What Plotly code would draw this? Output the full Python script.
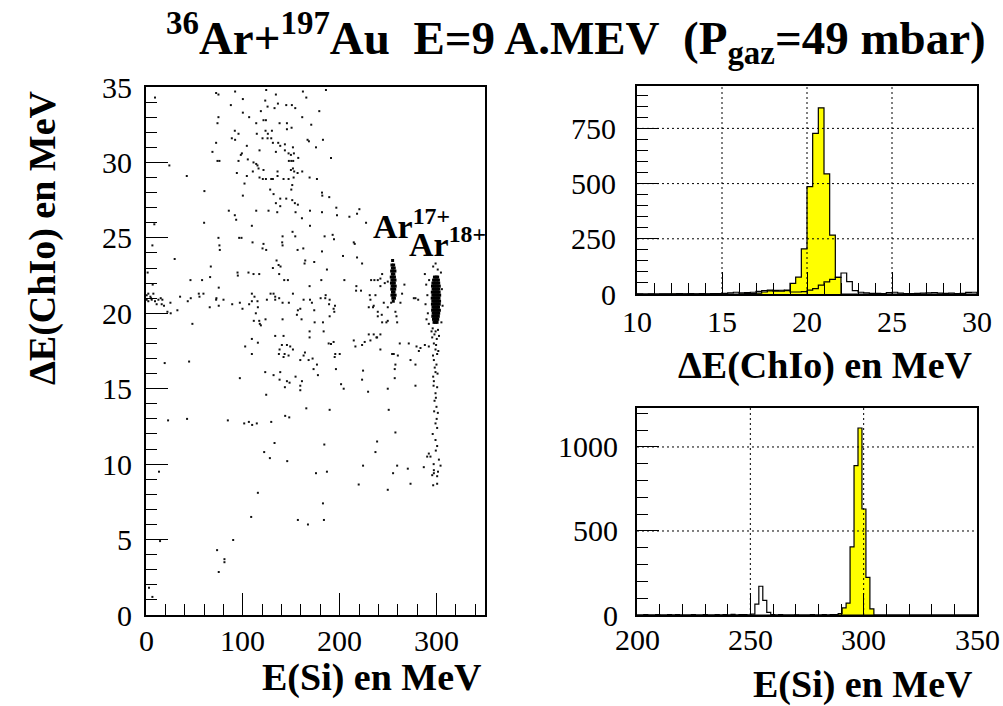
import plotly.graph_objects as go
import numpy as np

# ---------------- scatter data: E(Si) vs dE(ChIo) ----------------
sparse_pts = [
    (9.3,34.3),(72.4,34.6),(74.8,34.5),(92.0,34.7),(100.0,34.2),(124.1,34.8),(123.1,34.1),(134.1,34.5),(162.0,34.7),(165.5,34.3),(185.8,34.8),
    (87.6,33.8),(125.5,33.7),(136.2,33.9),(132.7,33.6),(144.8,33.8),(150.6,33.8),(154.1,33.6),(178.9,33.4),(100.0,33.3),(118.6,33.4),
    (74.8,33.0),(106.5,33.0),(121.3,32.8),(123.8,32.8),(73.8,32.6),(113.8,32.6),(137.9,32.6),(145.5,32.6),(161.3,33.0),(170.6,32.5),
    (91.7,32.1),(95.5,31.9),(114.4,31.9),(123.4,32.1),(130.0,32.1),(125.8,31.9),(150.3,32.3),(145.5,32.2),
    (88.6,31.6),(92.0,31.5),(120.3,31.6),(125.5,31.6),(129.3,31.6),(131.0,31.3),(136.5,31.3),(138.6,31.1),(143.4,31.2),(151.7,31.0),
    (166.8,31.5),(168.2,31.4),(182.7,31.5),(72.4,31.3),(104.1,31.1),(68.6,30.7),(99.0,30.6),(97.9,30.5),(117.2,30.8),(134.1,30.7),
    (143.4,30.8),(147.2,30.6),(149.6,30.5),(152.7,30.6),(157.2,30.3),(175.5,31.0),(191.0,30.3),(73.8,30.1),(75.8,30.1),(95.5,30.1),
    (105.1,30.2),(111.0,30.0),(113.8,29.9),(115.1,29.8),(147.5,30.1),(150.0,30.1),(152.0,30.1),(24.1,29.8),(110.3,29.4),(116.2,29.6),
    (121.3,29.5),(151.7,29.6),(149.6,29.5),(153.0,29.4),(156.5,29.3),(161.3,29.4),(135.8,29.4),(93.8,29.3),(104.1,29.1),(117.2,29.0),
    (120.6,28.9),(123.8,28.9),(129.3,28.9),(131.0,28.9),(135.8,29.1),(142.0,28.9),(147.2,28.9),(152.4,29.0),(168.9,29.0),(176.5,28.9),
    (42.1,29.1),(101.7,28.6),(128.2,28.2),(131.7,27.9),(150.0,28.2),(151.0,28.5),(181.7,28.0),(182.0,27.8),(60.3,28.1),(100.0,27.8),
    (189.2,27.7),(138.6,27.6),(144.8,27.6),(151.0,27.5),(153.7,27.3),(156.8,27.2),(134.1,27.3),(138.6,27.1),(85.5,26.8),(91.7,26.5),
    (93.1,26.2),(113.8,26.8),(126.5,26.8),(135.5,26.7),(154.4,26.7),(169.3,26.8),(181.7,26.7),(196.5,27.0),(197.2,26.5),(161.0,26.3),
    (60.0,26.0),(109.3,25.8),(169.3,25.8),(8.6,25.9),(151.3,25.4),(154.1,25.1),(184.4,25.1),(192.7,25.2),(194.1,24.9),(141.0,25.1),
    (96.2,25.0),(98.6,25.0),(74.8,25.0),(75.8,24.5),(76.2,24.2),(6.6,24.5),(110.0,24.7),(121.3,24.6),(140.6,24.7),(141.0,24.5),
    (124.1,24.2),(156.5,24.2),(162.4,24.3),(181.7,24.1),(120.3,24.3),(29.6,23.6),(134.8,23.5),(136.9,23.2),(138.9,23.1),(164.4,23.5),
    (173.7,23.4),(131.0,23.0),(163.7,23.3),(186.8,22.9),(66.9,23.1),(94.5,22.7),(94.8,22.5),(105.8,22.7),(111.0,22.6),(116.9,22.6),
    (137.5,22.6),(45.9,22.2),(57.9,22.2),(66.2,22.4),(142.7,22.2),(146.5,22.2),(181.0,22.2),(168.9,21.8),(75.1,21.7),(1.7,22.7),
    (2.4,21.3),(6.9,21.9),(5.2,21.0),(0.7,20.9),(2.4,20.8),(5.9,20.9),(9.3,20.8),(12.8,20.9),(15.2,21.0),(16.9,20.9),(11.0,20.6),
    (16.2,20.6),(18.6,20.5),(22.1,20.1),(25.2,20.7),(32.4,20.2),(25.5,20.0),(35.2,21.1),(43.1,20.8),(46.2,21.0),(54.5,21.3),(55.2,21.1),
    (59.3,21.3),(65.8,20.4),(72.7,21.0),(72.4,20.9),(75.1,20.5),(80.0,20.9),(89.0,20.6),(96.9,20.7),(99.6,20.3),(109.3,21.3),(109.3,20.8),
    (106.5,20.6),(115.1,20.8),(115.5,20.4),(112.0,21.1),(124.8,20.9),(128.6,21.3),(131.7,21.3),(133.4,20.9),(137.5,21.0),(133.4,21.1),
    (141.0,20.7),(147.5,20.7),(151.7,21.3),(162.7,20.9),(169.3,20.9),(171.3,20.7),(180.3,21.0),(185.1,21.0),(189.0,20.6),(193.7,20.3),
    (194.4,20.1),(113.4,20.0),(123.4,19.6),(141.0,19.6),(156.8,20.2),(159.3,20.3),(155.8,19.9),(160.6,19.6),(173.7,20.2),(189.6,19.8),
    (111.3,19.5),(116.9,19.5),(117.5,19.3),(118.6,19.2),(47.9,19.3),(182.7,19.4),(174.1,19.4),(195.1,20.5),(185.5,21.2),(189.6,20.9),
    (0.7,21.2),(4.5,21.1),(7.6,21.3),(133.4,18.5),(142.0,18.5),(109.3,18.3),(168.9,18.8),(183.4,18.8),(168.9,18.4),
    (102.4,17.8),(115.5,18.05),(109.3,17.3),(140.3,17.9),(145.5,17.9),(148.9,17.8),(151.7,17.6),(137.9,17.6),(137.2,17.3),(143.1,17.3),
    (147.2,17.2),(142.0,17.1),(164.1,17.4),(162.7,17.2),(159.3,16.9),(167.9,16.9),(172.0,17.0),(176.5,16.6),(173.0,16.3),(177.5,15.9),
    (188.6,18.0),(191.0,17.96),(193.7,18.1),(195.4,17.3),(200.0,17.3),(194.8,17.1),(196.1,16.3),(19.3,16.7),(44.5,16.8),(123.1,16.1),
    (131.7,15.9),(138.6,16.1),(137.9,15.6),(145.5,15.5),(148.2,15.4),(154.4,15.8),(161.0,15.5),(159.3,15.2),(159.3,14.9),(143.4,15.1),
    (96.9,15.7),(124.1,14.6),(165.5,13.7),(189.6,13.6),(143.7,13.2),(147.9,13.1),(22.8,12.9),(42.4,13.0),(84.5,12.9),(101.4,12.7),
    (106.2,12.8),(109.6,12.6),(114.4,12.7),(129.3,12.8),(132.7,11.4),(184.1,11.3),(122.0,10.8),(127.9,10.4),(145.8,10.2),(13.4,9.5),
    (175.5,9.4),(186.8,9.5),(115.5,8.1),(182.7,7.4),(108.6,6.5),(156.8,6.3),(167.2,6.0),(183.7,6.3),(90.0,4.97),(14.5,4.9),
    (73.4,4.3),(81.0,3.7),(81.0,3.5),(75.1,2.85),(3.1,1.8),(6.6,1.2),
    (227.2,26.0),(210.0,26.4),(217.9,26.6),(220.3,26.9),(214.5,24.7),(215.5,24.6),(217.9,23.7),(223.1,23.3),(203.4,23.8),(204.8,22.2),
    (217.2,21.8),(222.0,21.5),(216.9,21.5),(232.4,22.2),(235.8,22.2),(239.3,22.2),(242.0,22.3),(243.8,22.6),(249.6,22.1),(246.5,22.0),
    (242.0,21.8),(231.0,21.2),(236.9,21.2),(231.7,20.9),(235.1,20.5),(239.3,20.1),(243.4,19.9),(245.5,20.7),(249.6,20.4),(253.1,20.7),
    (230.0,20.4),(234.4,20.4),(257.5,20.1),(258.6,19.8),(259.3,19.4),(262.7,20.7),(264.4,21.3),(266.8,21.9),(249.6,19.5),(248.2,19.4),
    (243.8,19.4),(239.3,19.8),(242.0,18.6),(238.6,18.4),(235.1,18.6),(231.7,18.2),(230.0,18.6),(225.8,18.1),(223.1,17.9),(216.2,17.8),
    (214.5,18.2),(254.1,17.3),(255.8,17.3),(260.0,17.2),(242.0,17.6),(237.9,18.4),(271.3,18.0),(262.0,18.0),(278.2,21.0),(281.0,20.9),
    (276.5,21.0),(279.3,17.8),(281.7,17.5),(283.4,17.7),(287.9,17.9),(292.0,17.8),(273.1,16.9),(278.2,16.6),(257.5,16.6),(256.8,16.3),
    (224.1,16.2),(223.1,15.6),(229.3,14.8),(201.4,15.3),(204.1,15.0),(249.6,15.0),(256.8,15.7),(278.2,15.2),(250.6,13.6),(257.5,12.1),
    (238.6,11.5),(236.9,10.8),(224.1,9.9),(219.6,8.65),(249.6,8.3),(259.3,9.9),(270.3,9.7),(273.1,8.7),(255.1,9.4),
    (295.5,18.4),(297.2,18.0),(298.9,17.6),(300.6,17.3),(297.2,16.9),(299.9,16.6),(298.9,16.1),(296.5,15.8),(297.2,15.5),(300.6,15.1),
    (298.9,14.7),(297.9,14.2),(299.9,13.8),(301.3,13.4),(298.9,12.7),(300.6,12.4),(298.9,11.6),(300.6,11.2),(292.0,10.7),(293.7,10.5),
    (302.4,10.3),(304.1,9.9),(297.2,9.6),(295.5,9.27),(300.6,8.7),(286.8,9.8),(290.3,10.5),(296.5,8.6),(297.2,9.4),(300.6,9.2),
    (296.0,19.0),(299.0,18.8),(301.5,18.9),(297.8,18.6),(300.2,18.3),(302.5,18.5),(294.8,18.8),(299.5,17.9),(301.8,17.5),(296.3,17.2),
    (298.1,16.4),(301.0,16.0),(296.9,15.2),(299.3,14.4),(297.5,13.5),(300.1,13.0),(296.0,12.0),(299.2,10.9),(297.0,10.0),(301.5,9.5),
    (287.9,22.6),(289.3,21.9),(290.5,21.2),(288.6,20.6),(291.0,20.0),(289.6,19.6),(292.3,22.2),(292.0,19.3),(304.5,22.7),(305.5,21.6),
    (306.2,20.5),(305.0,19.4),(296.5,23.1),(299.0,23.3),(301.2,22.9),
]

ar18_pts = [
    (297.8,22.4),(299.6,22.4),(301.1,22.4),
    (296.9,22.2),(298.4,22.2),(300.3,22.2),(301.9,22.2),
    (296.2,22.0),(297.7,22.0),(299.1,22.0),(300.6,22.0),(302.2,22.0),
    (295.8,21.8),(297.2,21.8),(298.5,21.8),(299.9,21.8),(301.4,21.8),(302.8,21.8),
    (296.4,21.6),(297.9,21.6),(299.4,21.6),(300.8,21.6),(302.3,21.6),
    (295.6,21.4),(297.0,21.4),(298.4,21.4),(299.8,21.4),(301.2,21.4),(302.6,21.4),
    (296.2,21.2),(297.6,21.2),(299.0,21.2),(300.5,21.2),(301.9,21.2),(303.2,21.2),
    (295.5,21.0),(296.9,21.0),(298.3,21.0),(299.7,21.0),(301.1,21.0),(302.5,21.0),
    (296.1,20.8),(297.5,20.8),(298.9,20.8),(300.3,20.8),(301.8,20.8),(303.1,20.8),
    (295.7,20.6),(297.1,20.6),(298.6,20.6),(300.0,20.6),(301.4,20.6),(302.8,20.6),
    (296.3,20.4),(297.7,20.4),(299.2,20.4),(300.6,20.4),(302.0,20.4),
    (295.9,20.2),(297.3,20.2),(298.8,20.2),(300.2,20.2),(301.6,20.2),(302.9,20.2),
    (296.5,20.0),(297.9,20.0),(299.4,20.0),(300.8,20.0),(302.2,20.0),
    (296.1,19.8),(297.6,19.8),(299.0,19.8),(300.4,19.8),(301.8,19.8),
    (296.8,19.6),(298.3,19.6),(299.7,19.6),(301.2,19.6),
    (297.4,19.4),(298.9,19.4),(300.5,19.4),
]

ar17_pts = [
    (254.6,23.5),(253.9,23.2),(255.7,23.2),(254.4,23.0),(256.3,23.0),(253.6,22.8),(255.1,22.8),(257.0,22.8),
    (254.3,22.6),(255.9,22.6),(253.2,22.4),(254.8,22.4),(256.5,22.4),(253.9,22.2),(255.4,22.2),(257.1,22.2),
    (253.4,22.0),(254.9,22.0),(256.4,22.0),(254.1,21.8),(255.7,21.8),(257.3,21.8),(253.7,21.6),(255.2,21.6),
    (256.8,21.6),(254.5,21.4),(256.1,21.4),(253.9,21.2),(255.5,21.2),(257.2,21.2),(254.8,21.0),(256.5,21.0),(255.3,20.8),
]

# ---------------- histogram data ----------------
# dE(ChIo): 60 bins of 1/3 MeV from 10 to 30
de_edges = np.linspace(10, 30, 61)
de_yellow = [0,0,0,0,0,0,1,0,0,0, 0,0,0,0,0,0,0,0,1,2,
             2,4,9,18,13,13,18,48,76,204, 486,727,843,544,267,75,0,0,0,0,
             0,0,0,0,0,0,0,0,0,0, 0,0,0,0,0,0,0,0,0,0]
de_black = [1,0,1,0,1,1,0,2,1,2, 1,2,1,2,2,3,5,8,5,6,
            8,12,15,14,16,17,15,9,9,11, 18,24,40,55,66,75,95,56,15,8,
            5,3,3,2,6,8,4,2,2,3, 4,5,6,4,3,4,2,3,7,8]

# E(Si): bins of 1.75 MeV, 86 bins from 199.5 to 350
e_edges = 199.5 + 1.75 * np.arange(87)
e_yellow = [0]*86
for i, v in {49: 2, 50: 3, 51: 8, 52: 42, 53: 71, 54: 405, 55: 889, 56: 1113, 57: 631, 58: 224, 59: 36}.items():
    e_yellow[i] = v
e_black = [0]*86
for i, v in {2: 2, 5: 2, 8: 3, 10: 2, 14: 3, 17: 2, 20: 3, 22: 2, 24: 4, 26: 3, 27: 2,
             29: 5, 30: 65, 31: 171, 32: 87, 33: 16, 34: 2, 36: 2, 40: 1, 44: 2, 47: 3}.items():
    e_black[i] = v

# tick labels
left_x_ticks = [0, 100, 200, 300]
left_y_ticks = [0, 5, 10, 15, 20, 25, 30, 35]
rt_x_ticks = [10, 15, 20, 25, 30]
rt_y_ticks = [0, 250, 500, 750]
rb_x_ticks = [200, 250, 300, 350]
rb_y_ticks = [0, 500, 1000]

FONT = "Liberation Serif"

def step(edges, counts):
    xs = [edges[0]] + list(edges)
    ys = [0] + list(counts) + [0]
    return xs, ys

fig = go.Figure()

fig.add_trace(go.Scatter(x=[p[0] for p in sparse_pts], y=[p[1] for p in sparse_pts], mode="markers",
                         marker=dict(symbol="square", size=2, color="#111", line=dict(width=0)), xaxis="x", yaxis="y"))
fig.add_trace(go.Scatter(x=[p[0] for p in ar17_pts + ar18_pts], y=[p[1] for p in ar17_pts + ar18_pts], mode="markers",
                         marker=dict(symbol="square", size=3, color="#000", line=dict(width=0)), xaxis="x", yaxis="y"))

xs, ys = step(de_edges, de_yellow)
fig.add_trace(go.Scatter(x=xs, y=ys, mode="lines", line=dict(shape="hv", color="black", width=1.2),
                         fill="tozeroy", fillcolor="#ffff00", xaxis="x2", yaxis="y2"))
xs, ys = step(de_edges, de_black)
fig.add_trace(go.Scatter(x=xs, y=ys, mode="lines", line=dict(shape="hv", color="black", width=1.2),
                         xaxis="x2", yaxis="y2"))

xs, ys = step(e_edges, e_yellow)
fig.add_trace(go.Scatter(x=xs, y=ys, mode="lines", line=dict(shape="hv", color="black", width=1.2),
                         fill="tozeroy", fillcolor="#ffff00", xaxis="x3", yaxis="y3"))
xs, ys = step(e_edges, e_black)
fig.add_trace(go.Scatter(x=xs, y=ys, mode="lines", line=dict(shape="hv", color="black", width=1.2),
                         xaxis="x3", yaxis="y3"))

W, H = 1003, 706

def px2x(p):
    return p / W

def px2y(p):
    return 1 - p / H

def axis(domain, rng, dtick, mdtick, anchor):
    return dict(domain=domain, range=rng, dtick=dtick, tick0=0, anchor=anchor,
                ticks="inside", ticklen=22, tickwidth=1, tickcolor="black",
                minor=dict(ticks="inside", ticklen=11, dtick=mdtick, tickwidth=1, tickcolor="black", showgrid=False),
                showline=True, mirror=True, linecolor="black", linewidth=1.5,
                showgrid=False, zeroline=False, showticklabels=False,
                automargin=False, fixedrange=True)

L_x = [px2x(146), px2x(485)]
L_y = [px2y(615), px2y(87)]
R_x = [px2x(637), px2x(977)]
RT_y = [px2y(294), px2y(86)]
RB_y = [px2y(615), px2y(408)]

fig.update_layout(
    template="none",
    width=W, height=H, margin=dict(l=0, r=0, t=0, b=0, pad=0), autosize=False,
    paper_bgcolor="white", plot_bgcolor="white", showlegend=False,
    xaxis=axis(L_x, [0, 350], 100, 20, "y"),
    yaxis=axis(L_y, [0, 35], 5, 1, "x"),
    xaxis2=axis(R_x, [10, 30], 5, 1, "y2"),
    yaxis2=axis(RT_y, [0, 942], 250, 50, "x2"),
    xaxis3=axis(R_x, [200, 350], 50, 10, "y3"),
    yaxis3=axis(RB_y, [0, 1232], 500, 100, "x3"),
)

grid = dict(color="black", width=1, dash="2px,3px")
shapes = []
for gx in [15, 20, 25]:
    shapes.append(dict(type="line", xref="x2", yref="y2 domain", x0=gx, x1=gx, y0=0, y1=1, line=grid, layer="above"))
for gy in [250, 500, 750]:
    shapes.append(dict(type="line", xref="x2 domain", yref="y2", x0=0, x1=1, y0=gy, y1=gy, line=grid, layer="above"))
for gx in [250, 300]:
    shapes.append(dict(type="line", xref="x3", yref="y3 domain", x0=gx, x1=gx, y0=0, y1=1, line=grid, layer="above"))
for gy in [500, 1000]:
    shapes.append(dict(type="line", xref="x3 domain", yref="y3", x0=0, x1=1, y0=gy, y1=gy, line=grid, layer="above"))
fig.update_layout(shapes=shapes)

NB = "\u00a0"
ann = []

def lab(text, xr, yr, x, y, xanchor, yanchor, size, xshift=0, yshift=0, angle=0):
    ann.append(dict(text=text, xref=xr, yref=yr, x=x, y=y, xanchor=xanchor, yanchor=yanchor,
                    xshift=xshift, yshift=yshift, textangle=angle, showarrow=False,
                    font=dict(family=FONT, size=size, color="black")))

# tick labels (anchored on the axes, offset outward)
for v in left_x_ticks:
    lab(str(v), "x", "y", v, 0, "center", "middle", 30, yshift=-25)
for v in left_y_ticks:
    lab(str(v), "x", "y", 0, v, "right", "middle", 30, xshift=-12)
for v in rt_x_ticks:
    lab(str(v), "x2", "y2", v, 0, "center", "middle", 30, yshift=-27)
for v in rt_y_ticks:
    lab(str(v), "x2", "y2", 10, v, "right", "middle", 30, xshift=-19)
for v in rb_x_ticks:
    lab(str(v), "x3", "y3", v, 0, "center", "middle", 30, yshift=-24)
for v in rb_y_ticks:
    lab(str(v), "x3", "y3", 200, v, "right", "middle", 30, xshift=-17)

# axis titles
lab("<b>E(Si) en MeV</b>", "x", "y", 350, 0, "right", "middle", 38, xshift=-1, yshift=-62)
lab("<b>ΔE(ChIo) en MeV</b>", "x2", "y2", 30, 0, "right", "middle", 38, xshift=-2, yshift=-71)
lab("<b>E(Si) en MeV</b>", "x3", "y3", 350, 0, "right", "middle", 38, xshift=-2, yshift=-69)
lab("<b>ΔE(ChIo) en MeV</b>", "x", "y", 0, 35, "center", "middle", 38, xshift=-104, yshift=-151, angle=-90)

# main title
lab(f"<b><sup>36</sup>Ar+<sup>197</sup>Au{NB}{NB}E=9 A.MEV{NB}{NB}(P<sub>gaz</sub>=49 mbar)</b>",
    "x2", "y2", 10, 942, "center", "middle", 47, xshift=-61, yshift=48)

# charge-state labels
lab("<b>Ar<sup>17+</sup></b>", "x", "y", 232, 25.9, "left", "middle", 34)
lab("<b>Ar<sup>18+</sup></b>", "x", "y", 269, 24.7, "left", "middle", 34)

fig.update_layout(annotations=ann)

fig.write_html("out.html")
